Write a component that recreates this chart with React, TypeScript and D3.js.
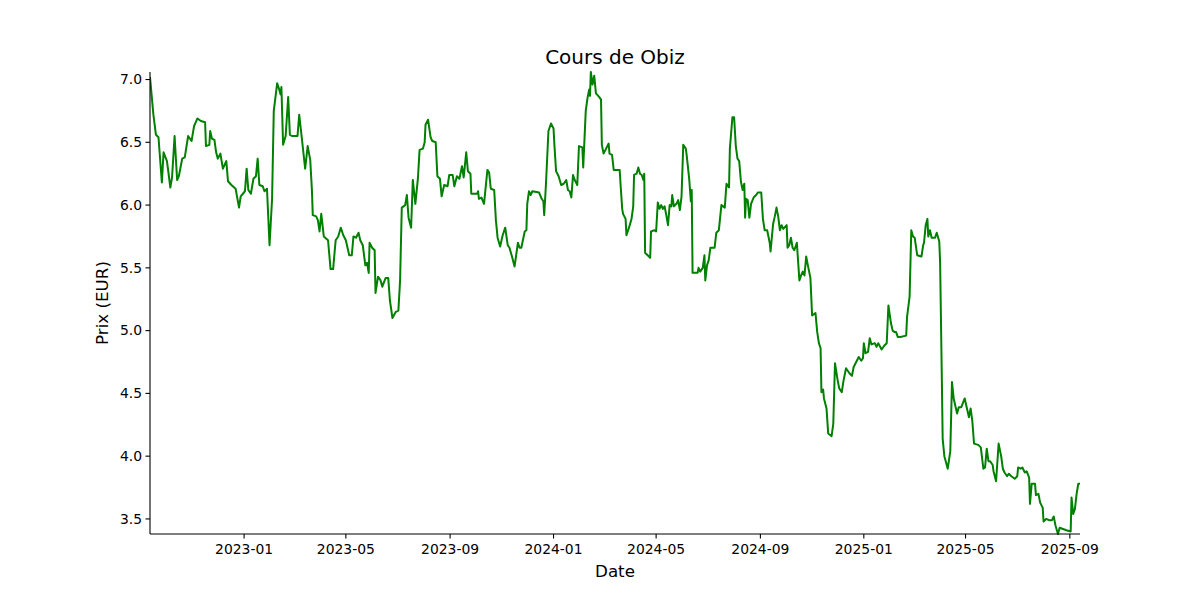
import * as d3 from "d3";

// trading days counted from 2022-09-12
const START = new Date(2022, 8, 12);
const DAYS = [
  0, 2, 4, 7, 10, 14, 16, 20, 24, 26, 29, 32, 34, 38, 41, 45, 49, 52, 56, 60,
  65, 66, 70, 71, 73, 76, 78, 80, 83, 86, 90, 92, 96, 101, 105, 107, 112, 114, 116, 119,
  122, 125, 127, 129, 133, 135, 138, 141, 144, 146, 150, 152, 154, 155, 157, 160, 163, 165, 168, 174,
  176, 178, 183, 186, 189, 191, 192, 196, 198, 200, 202, 205, 210, 213, 216, 219, 222, 225, 228, 231,
  235, 238, 240, 243, 246, 248, 251, 254, 256, 258, 259, 262, 265, 266, 269, 272, 274, 278, 281, 283,
  286, 290, 293, 295, 297, 301, 303, 305, 308, 310, 313, 316, 318, 322, 324, 325, 328, 331, 333, 337,
  339, 342, 344, 347, 351, 353, 357, 359, 362, 365, 368, 370, 373, 375, 378, 379, 386, 387, 388, 391,
  394, 398, 400, 402, 406, 408, 410, 413, 416, 419, 422, 424, 427, 430, 434, 436, 438, 442, 444, 445,
  447, 449, 451, 459, 462, 464, 465, 467, 470, 473, 476, 477, 479, 482, 485, 488, 491, 493, 495, 497,
  499, 501, 504, 506, 510, 511, 514, 516, 518, 519, 520, 522, 524, 526, 530, 532, 533, 535, 538, 541,
  542, 545, 547, 554, 555, 557, 558, 561, 562, 565, 568, 570, 571, 574, 576, 578, 580, 582, 583, 584,
  587, 590, 591, 595, 597, 599, 601, 603, 605, 607, 609, 611, 613, 615, 616, 618, 621, 623, 625, 627,
  629, 632, 633, 636, 638, 639, 640, 646, 647, 649, 652, 654, 655, 657, 659, 661, 666, 668, 671, 674,
  678, 680, 683, 684, 687, 689, 691, 693, 695, 697, 699, 701, 702, 703, 705, 707, 709, 712, 715, 717,
  721, 723, 725, 728, 731, 732, 735, 737, 739, 741, 743, 745, 747, 751, 752, 754, 756, 758, 760, 763,
  766, 768, 770, 772, 774, 776, 779, 781, 785, 787, 789, 791, 792, 794, 795, 798, 800, 804, 806, 808,
  811, 813, 816, 818, 821, 825, 828, 830, 833, 836, 839, 841, 842, 844, 847, 849, 851, 855, 857, 859,
  863, 866, 869, 871, 874, 876, 878, 880, 882, 885, 892, 893, 896, 898, 900, 902, 905, 910, 912, 913,
  915, 917, 918, 920, 922, 926, 928, 931, 932, 934, 935, 937, 941, 944, 946, 948, 952, 954, 957, 961,
  964, 966, 968, 970, 972, 977, 980, 983, 985, 987, 989, 991, 994, 995, 998, 1001, 1004, 1006, 1008, 1011,
  1013, 1016, 1020, 1023, 1024, 1027, 1029, 1032, 1034, 1037, 1038, 1040, 1044, 1045, 1048, 1050, 1053, 1054, 1057, 1061,
  1064, 1066, 1068, 1071, 1073, 1077, 1081, 1086, 1087, 1089, 1091, 1093, 1095, 1097,
];
const PRICES = [
  7.02, 6.87, 6.72, 6.56, 6.54, 6.18, 6.42, 6.35, 6.14, 6.22, 6.55, 6.2, 6.23, 6.37, 6.38, 6.55, 6.51, 6.63, 6.69, 6.67,
  6.66, 6.47, 6.48, 6.59, 6.53, 6.52, 6.42, 6.37, 6.41, 6.29, 6.35, 6.19, 6.16, 6.13, 5.98, 6.07, 6.11, 6.29, 6.12, 6.09,
  6.21, 6.23, 6.37, 6.16, 6.15, 6.11, 6.13, 5.68, 6.05, 6.75, 6.97, 6.93, 6.88, 6.94, 6.48, 6.55, 6.86, 6.56, 6.55, 6.55,
  6.72, 6.6, 6.29, 6.47, 6.36, 6.12, 5.92, 5.91, 5.88, 5.79, 5.93, 5.75, 5.72, 5.49, 5.49, 5.72, 5.75, 5.82, 5.76, 5.72,
  5.6, 5.6, 5.75, 5.74, 5.78, 5.72, 5.68, 5.52, 5.54, 5.46, 5.7, 5.66, 5.64, 5.3, 5.43, 5.4, 5.35, 5.42, 5.42, 5.24,
  5.1, 5.15, 5.16, 5.4, 5.98, 6.0, 6.08, 5.9, 5.82, 6.2, 6.01, 6.21, 6.44, 6.45, 6.5, 6.64, 6.68, 6.54, 6.51, 6.5,
  6.23, 6.21, 6.07, 6.16, 6.15, 6.24, 6.24, 6.15, 6.23, 6.21, 6.31, 6.22, 6.42, 6.27, 6.25, 6.09, 6.09, 6.11, 6.05, 6.06,
  6.01, 6.28, 6.26, 6.13, 6.12, 5.88, 5.74, 5.67, 5.76, 5.82, 5.68, 5.66, 5.59, 5.51, 5.7, 5.66, 5.66, 5.79, 5.8, 6.01,
  6.11, 6.08, 6.11, 6.1, 6.05, 6.03, 5.92, 6.16, 6.59, 6.65, 6.61, 6.48, 6.27, 6.23, 6.16, 6.17, 6.2, 6.12, 6.11, 6.06,
  6.24, 6.2, 6.16, 6.47, 6.46, 6.3, 6.75, 6.85, 6.92, 6.87, 7.06, 6.96, 7.03, 6.89, 6.86, 6.84, 6.48, 6.41, 6.45, 6.49,
  6.41, 6.4, 6.28, 6.28, 6.17, 5.97, 5.93, 5.89, 5.76, 5.82, 5.89, 5.99, 6.24, 6.25, 6.3, 6.25, 6.24, 6.2, 6.25, 5.62,
  5.6, 5.58, 5.79, 5.8, 5.79, 6.02, 5.97, 6.0, 5.97, 5.99, 5.92, 5.84, 6.0, 5.99, 6.08, 5.99, 6.01, 6.04, 5.96, 6.07,
  6.48, 6.45, 6.4, 6.21, 6.03, 6.12, 5.46, 5.46, 5.5, 5.47, 5.5, 5.6, 5.4, 5.52, 5.56, 5.66, 5.66, 5.78, 5.8, 6.0,
  5.98, 6.17, 6.14, 6.45, 6.7, 6.7, 6.47, 6.37, 6.35, 6.19, 6.12, 6.17, 5.9, 6.05, 6.04, 5.9, 6.01, 6.06, 6.08, 6.1,
  6.1, 5.89, 5.8, 5.8, 5.7, 5.63, 5.85, 5.91, 5.98, 5.91, 5.8, 5.84, 5.81, 5.84, 5.66, 5.68, 5.74, 5.66, 5.64, 5.7,
  5.4, 5.44, 5.47, 5.44, 5.59, 5.52, 5.42, 5.12, 5.14, 4.99, 4.9, 4.86, 4.51, 4.53, 4.46, 4.38, 4.18, 4.16, 4.26, 4.74,
  4.61, 4.54, 4.51, 4.6, 4.7, 4.66, 4.64, 4.71, 4.75, 4.79, 4.76, 4.78, 4.9, 4.82, 4.83, 4.94, 4.89, 4.9, 4.87, 4.9,
  4.85, 4.88, 4.9, 5.2, 5.06, 5.0, 4.99, 4.99, 4.95, 4.95, 4.96, 5.11, 5.27, 5.8, 5.75, 5.74, 5.6, 5.59, 5.68, 5.7,
  5.84, 5.89, 5.75, 5.8, 5.74, 5.74, 5.78, 5.71, 5.54, 4.63, 4.14, 4.0, 3.9, 4.04, 4.59, 4.46, 4.34, 4.39, 4.39, 4.46,
  4.37, 4.31, 4.38, 4.28, 4.1, 4.09, 4.07, 3.9, 3.91, 4.06, 3.96, 3.96, 3.93, 3.88, 3.8, 4.1, 4.0, 3.9, 3.87, 3.84,
  3.86, 3.84, 3.82, 3.84, 3.91, 3.9, 3.91, 3.87, 3.88, 3.83, 3.62, 3.78, 3.78, 3.69, 3.7, 3.63, 3.59, 3.48, 3.5, 3.49,
  3.49, 3.52, 3.45, 3.38, 3.43, 3.42, 3.41, 3.4, 3.67, 3.54, 3.58, 3.7, 3.78, 3.78,
];
const Y_TICKS = [3.5, 4.0, 4.5, 5.0, 5.5, 6.0, 6.5, 7.0];

const W = 1200;
const H = 600;
const M = { left: 150, right: 1080, top: 72, bottom: 534 };
const FONT = "DejaVu Sans, sans-serif";

export default function App() {
  const data = DAYS.map((d, i) => ({ date: d3.timeDay.offset(START, d), v: PRICES[i] }));

  const x = d3
    .scaleTime()
    .domain(d3.extent(data, (d) => d.date) as [Date, Date])
    .range([M.left, M.right]);
  const y = d3
    .scaleLinear()
    .domain(d3.extent(data, (d) => d.v) as [number, number])
    .range([M.bottom, M.top]);

  const line = d3
    .line<{ date: Date; v: number }>()
    .x((d) => x(d.date))
    .y((d) => y(d.v));

  // month starts every 4 months, like matplotlib's auto date locator here
  const xTicks = d3.timeMonth.every(4)!.range(x.domain()[0], x.domain()[1]).filter((d) => d.getMonth() % 4 === 0);
  const fmt = d3.timeFormat("%Y-%m");

  return (
    <svg width={W} height={H} style={{ position: "absolute", left: 0, top: 0, background: "#fff" }} fontFamily={FONT}>
      <rect width={W} height={H} fill="#fff" />
      <defs>
        <clipPath id="plot">
          <rect x={M.left} y={M.top - 2} width={M.right - M.left} height={M.bottom - M.top + 3} />
        </clipPath>
      </defs>

      <path d={line(data) ?? ""} fill="none" stroke="#008000" strokeWidth={2} strokeLinejoin="round" clipPath="url(#plot)" />

      {/* spines: left and bottom only */}
      <line x1={M.left} x2={M.left} y1={M.top} y2={M.bottom} stroke="#000" strokeWidth={1.1} />
      <line x1={M.left} x2={M.right} y1={M.bottom} y2={M.bottom} stroke="#000" strokeWidth={1.1} />

      {Y_TICKS.map((t) => (
        <g key={t}>
          <line x1={M.left - 4.5} x2={M.left} y1={y(t)} y2={y(t)} stroke="#000" strokeWidth={1.1} />
          <text x={M.left - 8} y={y(t)} dy="0.35em" textAnchor="end" fontSize={13.9} fill="#000">
            {t.toFixed(1)}
          </text>
        </g>
      ))}

      {xTicks.map((t) => (
        <g key={+t}>
          <line x1={x(t)} x2={x(t)} y1={M.bottom} y2={M.bottom + 4.5} stroke="#000" strokeWidth={1.1} />
          <text x={x(t)} y={M.bottom + 20} textAnchor="middle" fontSize={13.9} fill="#000">
            {fmt(t)}
          </text>
        </g>
      ))}

      <text x={(M.left + M.right) / 2} y={64} textAnchor="middle" fontSize={20} fill="#000">
        Cours de Obiz
      </text>
      <text x={(M.left + M.right) / 2} y={577} textAnchor="middle" fontSize={16.7} fill="#000">
        Date
      </text>
      <text
        transform={`translate(108, ${(M.top + M.bottom) / 2}) rotate(-90)`}
        textAnchor="middle"
        fontSize={16.7}
        fill="#000"
      >
        Prix (EUR)
      </text>
    </svg>
  );
}
